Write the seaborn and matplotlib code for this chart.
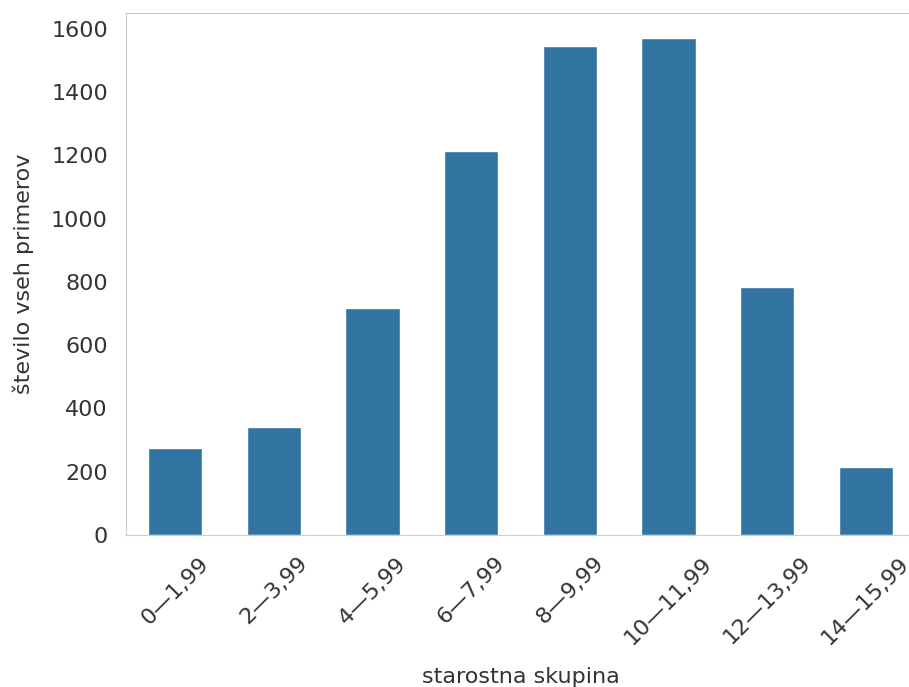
import matplotlib
matplotlib.use("Agg")
import pandas as pd
import seaborn as sns
import matplotlib.pyplot as plt

# --- data ---
skupine = ["0—1,99", "2—3,99", "4—5,99", "6—7,99",
           "8—9,99", "10—11,99", "12—13,99", "14—15,99"]
stevilo = [275, 340, 716, 1215, 1544, 1571, 785, 216]

df = pd.DataFrame({"skupina": skupine, "stevilo": stevilo})

sns.set_style("whitegrid")
plt.rcParams["font.family"] = ["DejaVu Sans"]

fig = plt.figure(figsize=(9.09, 6.87), dpi=100)
ax = fig.add_axes([0.1386, 0.2213, 0.8680, 0.7597])

sns.barplot(data=df, x="skupina", y="stevilo", color="#1f77b4", width=0.55, ax=ax)
ax.grid(False)

ax.set_xlabel("starostna skupina", fontsize=16, color="#333333", labelpad=14)
ax.set_ylabel("število vseh primerov", fontsize=16, color="#333333", labelpad=12)
ax.tick_params(axis="both", labelsize=16, length=0, colors="#333333", pad=13)
plt.setp(ax.get_xticklabels(), rotation=45)
for s in ax.spines.values():
    s.set_color("#cccccc")
ax.spines["right"].set_visible(False)

fig.savefig("out.png", dpi=100)
